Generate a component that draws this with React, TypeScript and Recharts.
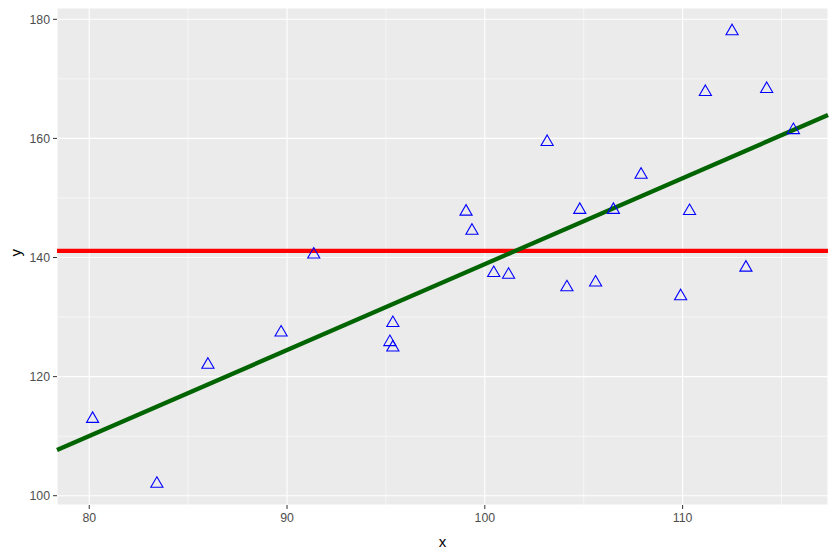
import {
  ComposedChart,
  Scatter,
  XAxis,
  YAxis,
  CartesianGrid,
  ReferenceLine,
  Symbols,
} from "recharts";

const xValues = [
  80.17, 83.42, 86.0, 89.7, 91.35, 95.2, 95.35, 95.35, 99.05, 99.35, 100.45,
  101.2, 103.15, 104.15, 104.8, 105.6, 106.5, 107.9, 109.9, 110.35, 111.15,
  112.5, 113.2, 114.25, 115.6,
];
const yValues = [
  112.9, 102.0, 122.0, 127.4, 140.5, 125.8, 129.0, 124.9, 147.7, 144.5, 137.4,
  137.1, 159.4, 135.0, 148.0, 135.8, 148.0, 153.9, 133.5, 147.8, 167.8, 178.0,
  138.3, 168.3, 161.4,
];

const xTicks = [80, 90, 100, 110];
const yTicks = [100, 120, 140, 160, 180];
const xMinor = [85, 95, 105, 115];
const yMinor = [110, 130, 150, 170];

const xDomain = [78.37, 117.35];
const yDomain = [98.44, 181.9];

// horizontal mean line and fitted line
const meanY = 141.1;
const fitIntercept = 138.89; // value at x = 100
const fitSlope = 1.4433;

const points = xValues.map((x, i) => ({ x, y: yValues[i] }));
const fit = (x: number) => fitIntercept + fitSlope * (x - 100);

const font = "Liberation Sans, Arial, sans-serif";
const tickStyle = { fill: "#4D4D4D", fontSize: 12.3, fontFamily: font };

function Triangle(props: any) {
  const { cx, cy } = props;
  return (
    <Symbols
      cx={cx}
      cy={cy}
      type="triangle"
      size={64}
      fill="none"
      stroke="#0000FF"
      strokeWidth={1.1}
    />
  );
}

export default function App() {
  return (
    <div style={{ position: "absolute", left: 0, top: 0 }}>
      <ComposedChart
        width={837}
        height={556}
        data={points}
        margin={{ top: 8, right: 9, bottom: 0, left: 0 }}
      >
        <CartesianGrid
          fill="#EBEBEB"
          fillOpacity={1}
          stroke="#FFFFFF"
          strokeWidth={1.1}
        />
        {xMinor.map((v) => (
          <ReferenceLine key={"xm" + v} x={v} stroke="#FFFFFF" strokeWidth={0.55} />
        ))}
        {yMinor.map((v) => (
          <ReferenceLine key={"ym" + v} y={v} stroke="#FFFFFF" strokeWidth={0.55} />
        ))}
        <XAxis
          type="number"
          dataKey="x"
          domain={xDomain}
          ticks={xTicks}
          allowDataOverflow
          axisLine={false}
          tickSize={4}
          tickMargin={4}
          tickLine={{ stroke: "#333333" }}
          tick={tickStyle}
          height={51}
          label={{
            value: "x",
            position: "insideBottom",
            offset: 9,
            fill: "#000000",
            fontSize: 15,
            fontFamily: font,
          }}
        />
        <YAxis
          type="number"
          dataKey="y"
          domain={yDomain}
          ticks={yTicks}
          allowDataOverflow
          axisLine={false}
          tickSize={4}
          tickMargin={3}
          tickLine={{ stroke: "#333333" }}
          tick={tickStyle}
          width={57}
          label={{
            value: "y",
            angle: -90,
            position: "insideLeft",
            offset: 16,
            fill: "#000000",
            fontSize: 15,
            fontFamily: font,
          }}
        />
        <Scatter dataKey="y" shape={<Triangle />} isAnimationActive={false} />
        <ReferenceLine y={meanY} stroke="#FF0000" strokeWidth={4.3} />
        <ReferenceLine
          segment={[
            { x: xDomain[0], y: fit(xDomain[0]) },
            { x: xDomain[1], y: fit(xDomain[1]) },
          ]}
          stroke="#006400"
          strokeWidth={4.3}
        />
      </ComposedChart>
    </div>
  );
}
